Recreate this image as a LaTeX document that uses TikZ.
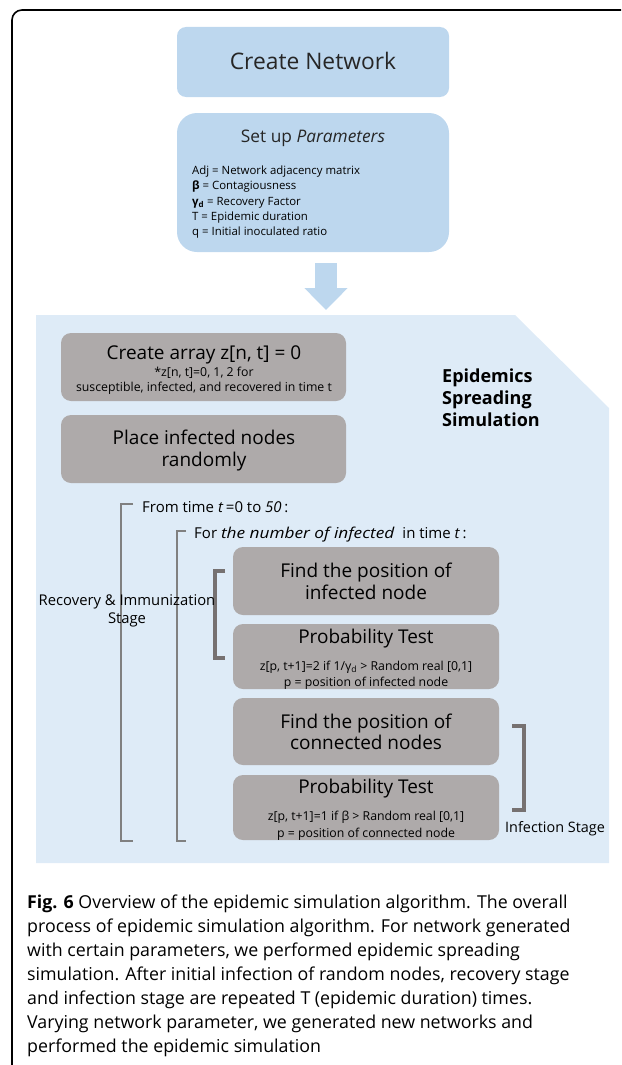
\documentclass[tikz,border=0pt]{standalone}
\usepackage{fontspec}
\setmainfont{Open Sans}
\usetikzlibrary{arrows.meta}
\definecolor{netblue}{HTML}{BDD7EE}
\definecolor{simblue}{HTML}{DEEBF7}
\definecolor{stepgray}{HTML}{AEAAAA}
\definecolor{brkgray}{HTML}{808080}
\definecolor{brkdark}{HTML}{767171}
\newcommand{\fsz}[2]{\fontsize{#1}{#2}\selectfont}

\begin{document}
\begin{tikzpicture}[x=1pt, y=-1pt,
    netbox/.style={fill=netblue, rounded corners=9pt, minimum width=272pt, inner sep=0pt},
    stepbox/.style={fill=stepgray, rounded corners=10pt, inner sep=0pt},
    lbl/.style={anchor=base, inner sep=0pt},
    lblw/.style={anchor=base west, inner sep=0pt},
    thinbrk/.style={draw=brkgray, line width=1.8pt},
    thickbrk/.style={draw=brkdark, line width=4.5pt},
    blockarrow/.style={draw=netblue, line width=22pt, -{Triangle[width=42pt, length=22pt]}}]
			%%%%% START %%%%%
			\useasboundingbox (0,0) rectangle (621,1065);
			
			% page frame
			\draw[line width=1.6pt, rounded corners=10pt] (12,1065) -- (12,10) -- (621,10);
			
			% network set-up
			\node[netbox, minimum height=70pt] (net) at (313,62) {};
			\node[lbl, font=\fsz{22.8}{26}, text=black!85] (netT) at (313,69.3) {Create Network};
			
			\node[netbox, minimum height=139pt, rounded corners=20pt] (par) at (313,182.5) {};
			\node[lbl, font=\fsz{17.3}{20}, text=black!85] (parT) at (313,142.5) {Set up \textit{Parameters}};
			\node[lblw, font=\fsz{11.4}{13}] (par1) at (192,174.6) {Adj = Network adjacency matrix};
			\node[lblw, font=\fsz{11.4}{13}] (par2) at (192,189.6) {\textbf{β} = Contagiousness};
			\node[lblw, font=\fsz{11.4}{13}] (par3) at (192,205.6) {\textbf{γ\textsubscript{d}} = Recovery Factor};
			\node[lblw, font=\fsz{11.4}{13}] (par4) at (192,220.6) {T = Epidemic duration};
			\node[lblw, font=\fsz{11.4}{13}] (par5) at (192,235.6) {q = Initial inoculated ratio};
			
			% simulation area
			\fill[simblue] (36,315) -- (515,315) -- (609,408) -- (609,863) -- (36,863) -- cycle;
			\coordinate (arrtop) at (326,263);
			\coordinate (arrtip) at (326,310);
			\draw[blockarrow] (arrtop) -- (arrtip);
			
			\node[lblw, font=\bfseries\fsz{18}{22}] (epi1) at (442,382.8) {Epidemics};
			\node[lblw, font=\bfseries\fsz{18}{22}] (epi2) at (442,404.8) {Spreading};
			\node[lblw, font=\bfseries\fsz{18}{22}] (epi3) at (442,426.8) {Simulation};
			
			\node[stepbox, minimum width=285pt, minimum height=68pt] (arr) at (203.5,367) {};
			\node[lbl, font=\fsz{19}{22}] (arrT) at (204,359) {Create array z[n, t] = 0};
			\node[lbl, font=\fsz{12.3}{14}] (arrS1) at (204,376) {*z[n, t]=0, 1, 2 for};
			\node[lbl, font=\fsz{12.3}{14}] (arrS2) at (204,391) {susceptible, infected, and recovered in time t};
			
			\node[stepbox, minimum width=285pt, minimum height=68pt] (place) at (203.5,449) {};
			\node[lbl, font=\fsz{19}{22}] (placeT1) at (204,444) {Place infected nodes};
			\node[lbl, font=\fsz{19}{22}] (placeT2) at (204,466) {randomly};
			
			% loops
			\node[lblw, font=\fsz{15}{18}] (loopT) at (142,512) {From time \textit{t}\,=0 to \textit{50}\,:};
			\node[lblw, font=\fsz{15}{18}] (loopI) at (194,538) {For \textit{\addfontfeature{FakeStretch=1.15}the number of infected} \ in time \textit{t}\,:};
			\draw[thinbrk] (133,504) -- (121,504) -- (121,841) -- (133,841);
			\draw[thinbrk] (186,531) -- (177,531) -- (177,841) -- (186,841);
			
			% recovery stage
			\node[stepbox, minimum width=266pt, minimum height=68pt] (findI) at (366,581) {};
			\node[lbl, font=\fsz{19}{22}] (findIT1) at (366,577) {Find the position of};
			\node[lbl, font=\fsz{19}{22}] (findIT2) at (366,599) {infected node};
			
			\node[stepbox, minimum width=266pt, minimum height=65pt] (probI) at (366,656.5) {};
			\node[lbl, font=\fsz{19}{22}] (probIT) at (366,643) {Probability Test};
			\node[lbl, font=\fsz{12.3}{14}] (probIS1) at (366,670) {z[p, t+1]=2 if 1/γ\textsubscript{d} > Random real [0,1]};
			\node[lbl, font=\fsz{12.3}{14}] (probIS2) at (366,686) {p = position of infected node};
			
			\draw[thickbrk] (225,571) -- (215,571) -- (215,658) -- (225,658);
			\node[lbl, font=\fsz{14.8}{17}] (recT1) at (127,605.7) {Recovery \& Immunization};
			\node[lbl, font=\fsz{14.8}{17}] (recT2) at (127,623.7) {Stage};
			
			% infection stage
			\node[stepbox, minimum width=266pt, minimum height=67pt] (findC) at (366,731.5) {};
			\node[lbl, font=\fsz{19}{22}] (findCT1) at (366,728) {Find the position of};
			\node[lbl, font=\fsz{19}{22}] (findCT2) at (366,749) {connected nodes};
			
			\node[stepbox, minimum width=266pt, minimum height=65pt] (probC) at (366,807.5) {};
			\node[lbl, font=\fsz{19}{22}] (probCT) at (366,793) {Probability Test};
			\node[lbl, font=\fsz{12.3}{14}] (probCS1) at (366,820) {z[p, t+1]=1 if β > Random real [0,1]};
			\node[lbl, font=\fsz{12.3}{14}] (probCS2) at (366,837) {p = position of connected node};
			
			\draw[thickbrk] (512,726) -- (524,726) -- (524,810) -- (512,810);
			\node[lblw, font=\fsz{14.4}{17}] (infT) at (505,832.6) {Infection Stage};
			
			% caption
			\node[lblw, font=\fsz{17.8}{24}] (cap1) at (27,908.8) {\textbf{Fig. 6} Overview of the epidemic simulation algorithm. The overall};
			\node[lblw, font=\fsz{17.8}{24}] (cap2) at (27,932.8) {process of epidemic simulation algorithm. For network generated};
			\node[lblw, font=\fsz{17.8}{24}] (cap3) at (27,956.8) {with certain parameters, we performed epidemic spreading};
			\node[lblw, font=\fsz{17.8}{24}] (cap4) at (27,980.8) {simulation. After initial infection of random nodes, recovery stage};
			\node[lblw, font=\fsz{17.8}{24}] (cap5) at (27,1004.8) {and infection stage are repeated T (epidemic duration) times.};
			\node[lblw, font=\fsz{17.8}{24}] (cap6) at (27,1028.8) {Varying network parameter, we generated new networks and};
			\node[lblw, font=\fsz{17.8}{24}] (cap7) at (27,1052.8) {performed the epidemic simulation};
			
			%%%%% END %%%%%
\end{tikzpicture}
\end{document}
